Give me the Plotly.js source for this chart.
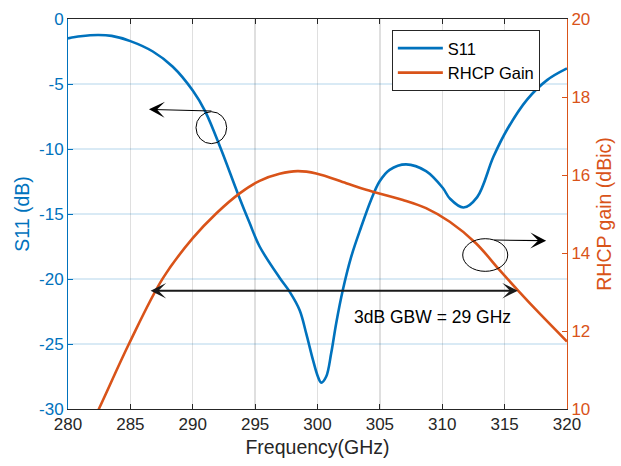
<!DOCTYPE html>
<html>
<head>
<meta charset="utf-8">
<script src="https://cdn.plot.ly/plotly-3.0.1.min.js"></script>
<style>html,body{margin:0;padding:0;background:#fff;}#chart{width:621px;height:466px;}</style>
</head>
<body>
<div id="chart"></div>
<script>
// S11 (dB) vs frequency (GHz)
const s11Freq = [280, 281, 282.4, 283.5, 285, 286.8, 288.4, 290, 291, 292.29, 293.6, 294.56, 295.36, 296.96, 297.76, 298.57, 299.1, 299.63, 300.03, 300.3, 300.7, 301.1, 301.5, 302.03, 302.7, 303.5, 304.3, 304.97, 305.78, 307.1, 308.7, 310.05, 310.6, 311.7, 312.8, 314.1, 315.2, 316.8, 318.4, 320];
const s11Vals = [-1.49, -1.33, -1.23, -1.3, -1.7, -2.5, -3.67, -5.5, -7.1, -10.08, -13.4, -15.7, -17.5, -19.9, -20.97, -22.4, -24.2, -26.2, -27.5, -27.97, -27.5, -25.7, -23.4, -20.85, -18.3, -16.0, -13.9, -12.5, -11.6, -11.18, -11.7, -13.0, -13.8, -14.5, -13.7, -10.6, -8.5, -6.2, -4.7, -3.8];
// RHCP gain (dBic) vs frequency (GHz)
const gainFreq = [282.0, 282.5, 284.9, 287.6, 290.0, 291.9, 293.76, 295.36, 296.96, 298.4, 299.9, 302.3, 303.9, 306.85, 308.7, 310.6, 312.7, 314.6, 316.1, 317.8, 320];
const gainVals = [9.7, 10.02, 11.68, 13.35, 14.38, 15.02, 15.53, 15.85, 16.03, 16.1, 16.04, 15.79, 15.62, 15.36, 15.15, 14.8, 14.25, 13.56, 13.03, 12.45, 11.73];
// tick labels
const xTicks = [280, 285, 290, 295, 300, 305, 310, 315, 320];
const yTicks = [-30, -25, -20, -15, -10, -5, 0];
const y2Ticks = [10, 12, 14, 16, 18, 20];
const seriesNames = ['S11', 'RHCP Gain'];
const gbwText = '3dB GBW = 29 GHz';

const BLUE = '#0072BD', ORANGE = '#D95319', DARK = '#262626';
const FONT = 'Liberation Sans, Arial, sans-serif';

const traces = [
  {x: s11Freq, y: s11Vals, name: seriesNames[0], type: 'scatter', mode: 'lines',
   line: {color: BLUE, width: 2.6, shape: 'spline', smoothing: 1}, yaxis: 'y'},
  {x: gainFreq, y: gainVals, name: seriesNames[1], type: 'scatter', mode: 'lines',
   line: {color: ORANGE, width: 2.6, shape: 'spline', smoothing: 1}, yaxis: 'y2'}
];

const arrowCommon = {xref: 'x', yref: 'y', axref: 'x', ayref: 'y', text: '', showarrow: true,
  arrowcolor: '#000', standoff: 0, startstandoff: 0};

const layout = {
  width: 621, height: 466,
  margin: {l: 68, r: 54, t: 19, b: 57},
  paper_bgcolor: '#fff', plot_bgcolor: '#fff',
  font: {family: FONT, size: 17, color: DARK},
  showlegend: true,
  legend: {x: 0.649, y: 0.972, xanchor: 'left', yanchor: 'top', bgcolor: '#fff',
    bordercolor: DARK, borderwidth: 1, font: {size: 16.5, color: '#000'}, itemwidth: 45, tracegroupgap: 0},
  xaxis: {range: [280, 320], tickvals: xTicks, ticktext: xTicks.map(String), ticks: 'inside', ticklen: 5,
    tickcolor: DARK, showline: true, linecolor: DARK, linewidth: 1, mirror: 'ticks',
    showgrid: true, gridcolor: 'rgba(38,38,38,0.15)', gridwidth: 1.3, zeroline: false,
    tickfont: {size: 17, color: DARK},
    title: {text: 'Frequency(GHz)', font: {size: 19.5, color: DARK}, standoff: 6}},
  yaxis: {range: [-30, 0], tickvals: yTicks, ticktext: yTicks.map(String), ticks: 'inside', ticklen: 5,
    tickcolor: BLUE, showline: true, linecolor: BLUE, linewidth: 1, mirror: false,
    showgrid: true, gridcolor: 'rgba(0,114,189,0.15)', gridwidth: 1.5, zeroline: false,
    tickfont: {size: 17, color: BLUE},
    title: {text: 'S11 (dB)', font: {size: 19.5, color: BLUE}, standoff: 4}},
  yaxis2: {range: [10, 20], tickvals: y2Ticks, ticktext: y2Ticks.map(String), overlaying: 'y', side: 'right',
    ticks: 'inside', ticklen: 5, tickcolor: ORANGE, showline: true, linecolor: ORANGE, linewidth: 1,
    showgrid: false, zeroline: false, tickfont: {size: 17, color: ORANGE},
    title: {text: 'RHCP gain (dBic)', font: {size: 19.5, color: ORANGE}, standoff: 8}},
  shapes: [
    {type: 'circle', xref: 'x', yref: 'y', x0: 290.26, x1: 292.72, y0: -9.59, y1: -7.13,
     line: {color: '#000', width: 1}},
    {type: 'circle', xref: 'x', yref: 'y', x0: 311.64, x1: 315.25, y0: -19.41, y1: -16.9,
     line: {color: '#000', width: 1}}
  ],
  annotations: [
    Object.assign({}, arrowCommon, {x: 286.49, y: -6.95, ax: 291.62, ay: -7.08,
      arrowhead: 3, arrowsize: 2.4, arrowwidth: 1.1}),
    Object.assign({}, arrowCommon, {x: 318.33, y: -17.05, ax: 314.05, ay: -17.0,
      arrowhead: 3, arrowsize: 2.4, arrowwidth: 1.1}),
    Object.assign({}, arrowCommon, {x: 316.06, y: -20.9, ax: 286.5, ay: -20.9,
      arrowhead: 3, startarrowhead: 3, arrowside: 'end+start', arrowsize: 1.3, startarrowsize: 1.3,
      arrowwidth: 2, arrowcolor: '#1a1a1a'}),
    {xref: 'x', yref: 'y', x: 309.25, y: -22.9, text: gbwText, showarrow: false,
     font: {size: 17.5, color: '#000'}, xanchor: 'center', yanchor: 'middle'}
  ]
};

Plotly.newPlot('chart', traces, layout, {displayModeBar: false, staticPlot: true});
</script>
</body>
</html>
